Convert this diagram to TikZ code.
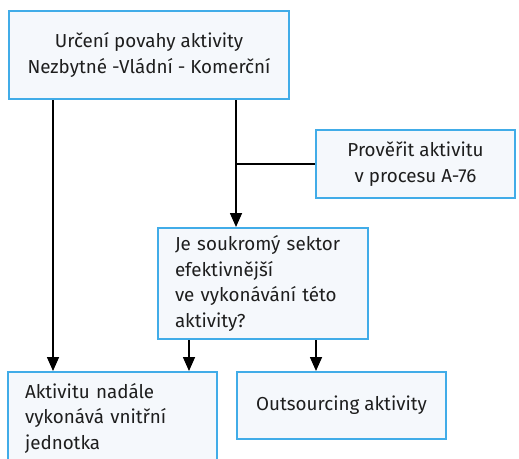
\documentclass[tikz,border=0pt]{standalone}
\usepackage{fontspec}
\setmainfont{Fira Sans}
\usetikzlibrary{arrows.meta}
\definecolor{boxline}{HTML}{41ACE8}
\definecolor{boxfill}{HTML}{F5F8FC}
\definecolor{txt}{HTML}{1E1E1E}
\tikzset{
  box/.style={draw=boxline, fill=boxfill, line width=2pt, text=txt,
    font=\fontsize{18.8}{25.5}\selectfont, inner sep=0pt},
  arr/.style={line width=1.6pt, -{Triangle[length=14pt,width=12pt]}},
  conn/.style={line width=1.8pt}
}
\begin{document}
\begin{tikzpicture}[x=1pt,y=-1pt]
\useasboundingbox (0,0) rectangle (519,458);
\clip (0,0) rectangle (519,458);
\node[box, minimum width=280pt, minimum height=88pt, align=center] (top) at (149,55)
  {Určení povahy aktivity\\Nezbytné -Vládní - Komerční};
\node[box, minimum width=199pt, minimum height=68pt, align=center] (prov) at (415.5,164)
  {Prověřit aktivitu\\v procesu A-76};
\node[box, minimum width=210pt, minimum height=111pt, text width=176pt, inner xsep=17pt, align=left] (mid) at (263,283.5)
  {Je soukromý sektor\\efektivnější\\ve vykonávání této\\aktivity?};
\node[box, minimum width=209pt, minimum height=92pt, text width=175pt, inner xsep=17pt, align=left] (bl) at (112.5,418)
  {Aktivitu nadále\\vykonává vnitřní\\jednotka};
\node[box, minimum width=209pt, minimum height=67pt, align=center] (br) at (341.5,405.5)
  {Outsourcing aktivity};
\coordinate (xa) at (53,0);
\coordinate (xb) at (236,0);
\coordinate (xc) at (189,0);
\coordinate (xd) at (316,0);
\draw[arr] (top.south -| xa) -- (bl.north -| xa);
\draw[arr] (top.south -| xb) -- (mid.north -| xb);
\draw[conn] (prov.west) -- (prov.west -| xb);
\draw[arr] (mid.south -| xc) -- (bl.north -| xc);
\draw[arr] (mid.south -| xd) -- (br.north -| xd);
\end{tikzpicture}
\end{document}
